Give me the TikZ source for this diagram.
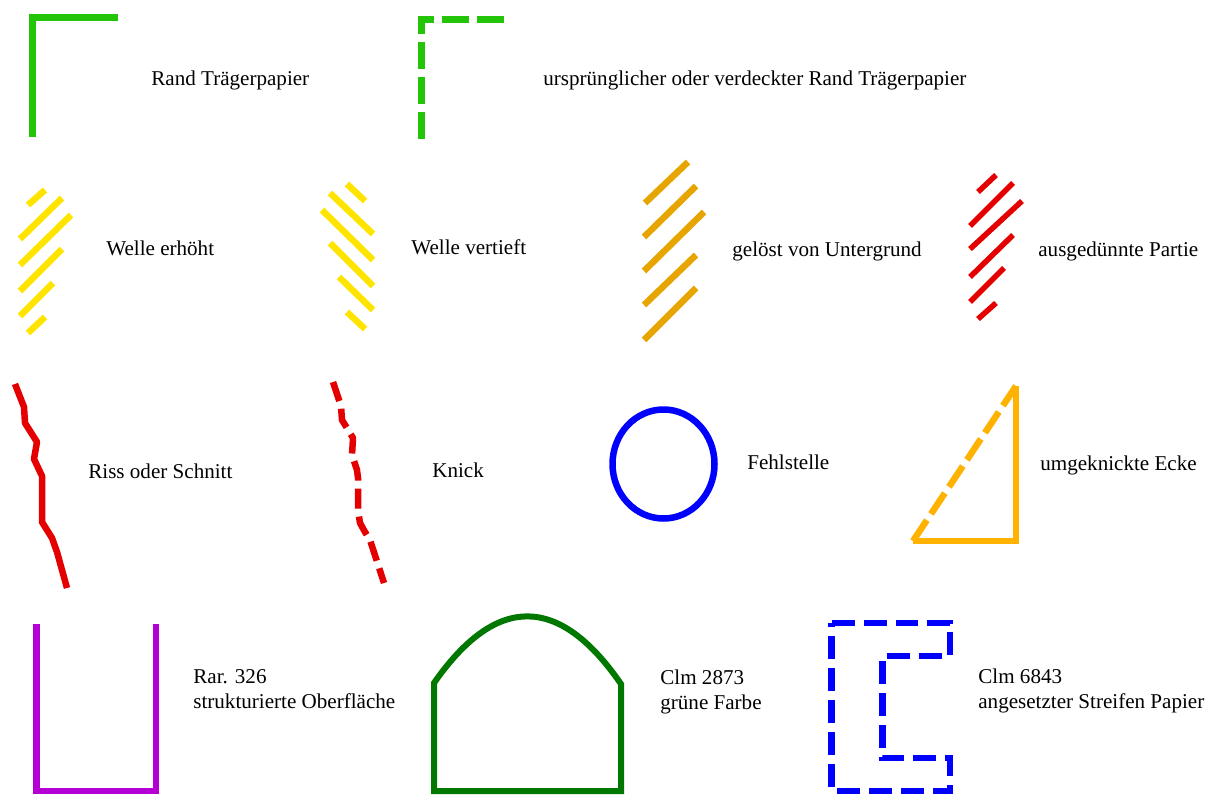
\documentclass[tikz,border=0pt]{standalone}
\usepackage{fontspec}
\setmainfont{Liberation Serif}
\usepackage{tikz}
\usetikzlibrary{positioning}

\definecolor{randgreen}{RGB}{36,196,8}
\definecolor{wavyellow}{RGB}{255,228,0}
\definecolor{loseorange}{RGB}{230,165,0}
\definecolor{rissred}{RGB}{228,0,0}
\definecolor{eckorange}{RGB}{255,178,0}
\definecolor{rarpurple}{RGB}{180,0,212}
\definecolor{clmgreen}{RGB}{0,120,0}
\definecolor{clmblue}{RGB}{0,0,255}

\begin{document}
\begin{tikzpicture}[x=0.02cm, y=-0.02cm,
  mark line/.style={line width=0.13cm},
  hatchline/.style={line width=0.13cm},
  dashline/.style={line width=0.13cm, dash pattern=on 0.54cm off 0.16cm},
  lbl/.style={anchor=base west, inner sep=0pt, align=left,
    font=\fontsize{12pt}{14.2pt}\selectfont}]
  \useasboundingbox (0,0) rectangle (1216,794);

  %--- row 1: paper edges ---
  \draw[mark line, randgreen] (32.5,137) -- (32.5,17.5) -- (118,17.5);
  \node[lbl] (rand) at (151,86) {Rand Trägerpapier};
  \draw[dashline, randgreen] (421.5,139) -- (421.5,19.5) -- (504,19.5);
  \node[lbl] (urand) at (543,86) {ursprünglicher oder verdeckter Rand Trägerpapier};

  %--- row 2: hatchings ---
  % Welle erhoeht
  \foreach \xa/\ya/\xb/\yb in {28/205/45/190, 20/239/62/198, 20/265/71/215,
                               20/291/62/249, 20/316/53/283, 28/333/45/317}
    \draw[hatchline, wavyellow] (\xa,\ya) -- (\xb,\yb);
  \node[lbl] (erhoeht) at (106,255) {Welle erhöht};
  % Welle vertieft
  \foreach \xa/\ya/\xb/\yb in {347/184/365/201, 330/193/373/234, 322/210/373/260,
                               330/243/373/286, 339/277/373/310, 347/312/365/329}
    \draw[hatchline, wavyellow] (\xa,\ya) -- (\xb,\yb);
  \node[lbl] (vertieft) at (411,254) {Welle vertieft};
  % geloest
  \foreach \xa/\ya/\xb/\yb in {645/203/688/162, 644/237/696/186, 644/271/704/212,
                               644/305/696/255, 644/340/696/288}
    \draw[hatchline, loseorange] (\xa,\ya) -- (\xb,\yb);
  \node[lbl] (geloest) at (732,256) {gelöst von Untergrund};
  % ausgeduennt
  \foreach \xa/\ya/\xb/\yb in {978/192/996/175, 970/226/1013/183, 970/249/1022/201,
                               970/277/1013/235, 970/302/1004/268, 978/319/996/303}
    \draw[line width=0.11cm, rissred] (\xa,\ya) -- (\xb,\yb);
  \node[lbl] (duenn) at (1038,256) {ausgedünnte Partie};

  %--- row 3: damages ---
  \draw[mark line, rissred, line join=round] (15,384) -- (24,407) -- (25,423)
    -- (37,442) -- (34,459) -- (42,476) -- (42,522) -- (52,538) -- (57,552) -- (67,588);
  \node[lbl] (riss) at (88,478) {Riss oder Schnitt};
  \draw[mark line, rissred, line join=round, dash pattern=on 0.4cm off 0.16cm]
    (333,382) -- (341,406) -- (342,420) -- (347,428) -- (353,438) -- (352,455)
    -- (357,470) -- (358,478) -- (358,510) -- (360,523) -- (365,532) -- (370,540)
    -- (384,583);
  \node[lbl] (knick) at (432,477) {Knick};
  \draw[mark line, clmblue] (663.5,464) ellipse [x radius=51, y radius=54.5];
  \node[lbl] (fehl) at (747,469) {Fehlstelle};
  \draw[mark line, eckorange] (1016,386) -- (1016,541) -- (913,541);
  \draw[mark line, eckorange, dash pattern=on 0.5cm off 0.15cm] (913,541) -- (1016,386);
  \node[lbl] (ecke) at (1040,470) {umgeknickte Ecke};

  %--- row 4: single manuscripts ---
  \draw[mark line, rarpurple] (36.5,624) -- (36.5,791) -- (156,791) -- (156,624);
  \node[lbl] (rar) at (193,708) {Rar. 326\\strukturierte Oberfläche};
  \draw[line width=0.12cm, clmgreen] (434,791) -- (434,683)
    .. controls (496,594) and (559,594) .. (621,684) -- (621,791) -- cycle;
  \node[lbl] (clma) at (660,709) {Clm 2873\\grüne Farbe};
  \draw[mark line, clmblue, dash pattern=on 0.46cm off 0.18cm]
    (831.5,623) -- (950,623) -- (950,656) -- (882.5,656) -- (882.5,758)
    -- (950,758) -- (950,791) -- (831.5,791) -- cycle;
  \node[lbl] (clmb) at (978,708) {Clm 6843\\angesetzter Streifen Papier};
\end{tikzpicture}
\end{document}
